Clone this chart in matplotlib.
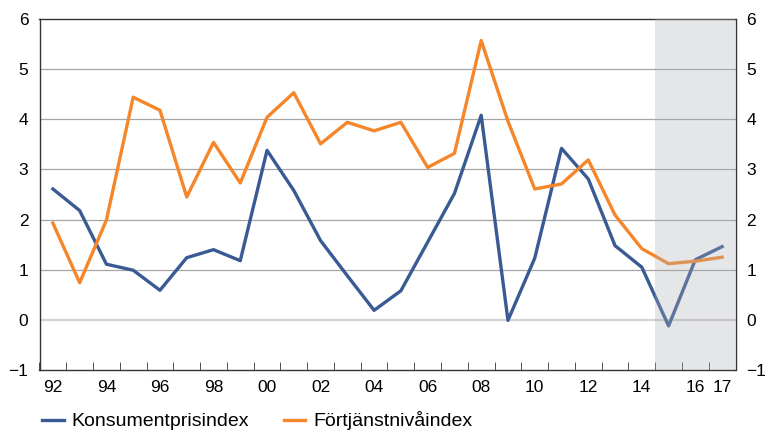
import matplotlib
matplotlib.use("Agg")
import matplotlib.pyplot as plt

years = list(range(1992, 2018))
kpi = [2.61, 2.18, 1.11, 0.99, 0.59, 1.24, 1.40, 1.18, 3.38, 2.58,
       1.58, 0.88, 0.19, 0.58, 1.55, 2.52, 4.08, -0.01, 1.23, 3.42,
       2.81, 1.48, 1.05, -0.12, 1.20, 1.46]
fni = [1.93, 0.74, 1.99, 4.44, 4.18, 2.45, 3.54, 2.73, 4.04, 4.53,
       3.51, 3.94, 3.77, 3.94, 3.04, 3.32, 5.57, 3.96, 2.61, 2.71,
       3.19, 2.09, 1.42, 1.12, 1.17, 1.25]
tick_years = [1992, 1994, 1996, 1998, 2000, 2002, 2004, 2006, 2008,
              2010, 2012, 2014, 2016, 2017]
tick_labels = ["92", "94", "96", "98", "00", "02", "04", "06", "08",
               "10", "12", "14", "16", "17"]
forecast_start = 2014.5

plt.rcParams['font.family'] = ['Liberation Sans', 'DejaVu Sans']
plt.rcParams['font.size'] = 12.5

fig = plt.figure(figsize=(7.65, 4.33), dpi=100)
ax = fig.add_axes([39.5 / 765, 1 - 370 / 433, 696 / 765, 351 / 433])

blue = "#3a5a94"
orange = "#f5862a"

ax.plot(years, kpi, color=blue, lw=2.4, label="Konsumentprisindex", zorder=3)
ax.plot(years, fni, color=orange, lw=2.4, label="Förtjänstnivåindex", zorder=3)
# forecast shading sits on top of the lines, like the original
ax.axvspan(forecast_start, 2017.5, color="#acaeb4", alpha=0.3, lw=0, zorder=4)

for v in range(1, 6):
    ax.axhline(v, color="#a6a6a6", lw=0.9, zorder=1)
ax.axhline(0, color="#d3d3d3", lw=1.6, zorder=1)

ax.set_xlim(1991.5, 2017.5)
ax.set_ylim(-1, 6)
ax.set_yticks(range(-1, 7))
ax.set_xticks(tick_years)
ax.set_xticklabels(tick_labels)
ax.set_xticks([y + 0.5 for y in range(1991, 2017)], minor=True)
ax.tick_params(axis="x", which="major", length=0, pad=7)
ax.tick_params(axis="x", which="minor", direction="in", length=6, color="#333333")
ax.tick_params(axis="y", length=0, pad=8, right=True, labelright=True)
for s in ax.spines.values():
    s.set_color("#333333")
    s.set_linewidth(1.0)

ax.legend(loc="upper left", bbox_to_anchor=(0.004, -0.118), ncol=2, frameon=False,
          fontsize=14, handlelength=1.1, handletextpad=0.4, columnspacing=1.8,
          borderaxespad=0, borderpad=0)

fig.savefig("out.png", dpi=100)
